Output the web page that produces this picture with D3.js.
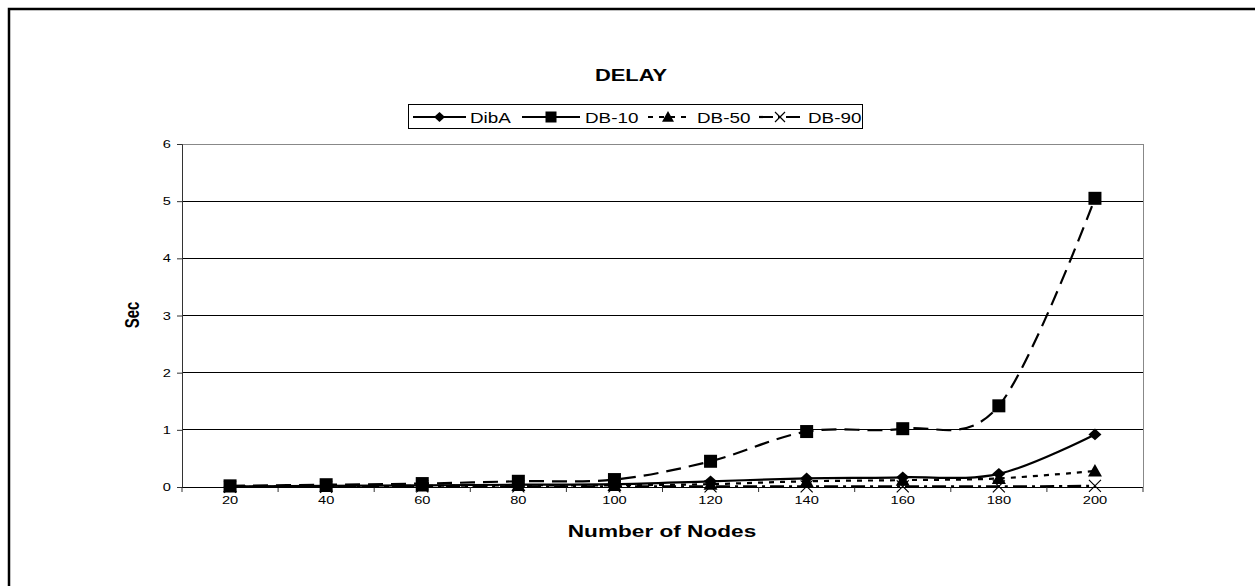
<!DOCTYPE html>
<html><head><meta charset="utf-8">
<script src="https://cdn.jsdelivr.net/npm/d3@7"></script>
<style>html,body{margin:0;background:#fff;overflow:hidden}svg{display:block;font-family:"Liberation Sans",Arial,sans-serif}</style>
</head><body>
<svg id="c" width="1255" height="586"></svg>
<script>
const categories = [20, 40, 60, 80, 100, 120, 140, 160, 180, 200];
const dibA = [0.01, 0.02, 0.03, 0.04, 0.05, 0.10, 0.15, 0.17, 0.23, 0.92];
const db10 = [0.02, 0.04, 0.06, 0.10, 0.13, 0.45, 0.97, 1.02, 1.42, 5.05];
const db50 = [0.005, 0.01, 0.02, 0.03, 0.03, 0.05, 0.10, 0.12, 0.15, 0.28];
const db90 = [0.005, 0.005, 0.01, 0.01, 0.01, 0.01, 0.01, 0.01, 0.01, 0.02];
const yTicks = [0, 1, 2, 3, 4, 5, 6];
const seriesNames = ["DibA", "DB-10", "DB-50", "DB-90"];

const series = [
  {name: seriesNames[0], values: dibA, dash: null, marker: "diamond"},
  {name: seriesNames[1], values: db10, dash: "15,8", marker: "square"},
  {name: seriesNames[2], values: db50, dash: "5,6", marker: "triangle"},
  {name: seriesNames[3], values: db90, dash: "14,5,3,5", marker: "cross"}
];

const SX = 1.33; // horizontal stretch of the original picture

const svg = d3.select("#c");
const L = 182, R = 1143, T = 144, B = 487;
const x = d3.scaleBand().domain(categories).range([L, R]).padding(0);
const y = d3.scaleLinear().domain([0, 6]).range([B, T]);
const cx = d => x(d) + x.bandwidth() / 2;

function stext(px, py, str, size, bold, anchor, rot, sx) {
  const t = svg.append("text")
    .attr("transform", `translate(${px},${py}) scale(${sx || SX},1)` + (rot ? ` rotate(${rot})` : ""))
    .attr("font-size", size).attr("text-anchor", anchor || "start").text(str);
  if (bold) t.attr("font-weight", "bold");
  return t;
}

// outer border (only left and top edges are inside the picture)
svg.append("path").attr("d", "M9,700V9H1400")
  .attr("fill", "none").attr("stroke", "#000").attr("stroke-width", 2.5);

// title
stext(631, 81, "DELAY", 16, true, "middle", null, 1.37);

// gridlines
svg.append("g").selectAll("line").data(yTicks.filter(t => t > 0)).join("line")
  .attr("x1", L).attr("x2", R).attr("y1", d => y(d)).attr("y2", d => y(d))
  .attr("stroke", d => d === 6 ? "#888" : "#000").attr("stroke-width", 1).attr("shape-rendering", "crispEdges");
svg.append("line").attr("x1", R).attr("x2", R).attr("y1", T).attr("y2", B)
  .attr("stroke", "#888").attr("shape-rendering", "crispEdges");

// y axis
const yAxis = svg.append("g").attr("transform", `translate(${L},0)`)
  .call(d3.axisLeft(y).tickValues(yTicks).tickSize(5).tickFormat(""));
yAxis.select(".domain").attr("stroke", "#333");
yAxis.selectAll("line").attr("stroke", "#333");
yTicks.forEach(t => stext(L - 11, y(t) + 4, d3.format("d")(t), 11, false, "end"));

// x axis
svg.append("line").attr("x1", L).attr("x2", R).attr("y1", B).attr("y2", B)
  .attr("stroke", "#000").attr("shape-rendering", "crispEdges");
const xAxis = svg.append("g").attr("transform", `translate(0,${B})`)
  .call(d3.axisBottom(x).tickSize(0).tickFormat(""));
xAxis.select(".domain").remove();
categories.forEach(c => stext(cx(c), B + 17, String(c), 11, false, "middle"));
svg.append("g").selectAll("line").data(d3.range(categories.length + 1)).join("line")
  .attr("x1", i => L + i * x.bandwidth()).attr("x2", i => L + i * x.bandwidth())
  .attr("y1", B).attr("y2", B + 5).attr("stroke", "#333");

// axis titles
stext(662, 537, "Number of Nodes", 17, true, "middle");
stext(139, 315, "Sec", 15, true, "middle", -90);

// markers
function drawMarker(g, type, px, py, s) {
  if (type === "diamond") {
    g.append("path").attr("d", `M${px},${py - s * 0.9}L${px + s},${py}L${px},${py + s * 0.9}L${px - s},${py}Z`).attr("fill", "#000");
  } else if (type === "square") {
    g.append("rect").attr("x", px - s).attr("y", py - s).attr("width", 2 * s).attr("height", 2 * s).attr("fill", "#000");
  } else if (type === "triangle") {
    g.append("path").attr("d", `M${px},${py - s}L${px + s},${py + s * 0.8}L${px - s},${py + s * 0.8}Z`).attr("fill", "#000");
  } else {
    g.append("path").attr("d", `M${px - s},${py - s}L${px + s},${py + s}M${px - s},${py + s}L${px + s},${py - s}`)
      .attr("stroke", "#000").attr("stroke-width", 1.2).attr("fill", "none");
  }
}
const markerSize = {diamond: 6.5, square: 6.5, triangle: 7, cross: 6};

const line = d3.line().x(d => cx(d.c)).y(d => y(d.v)).curve(d3.curveCardinal.tension(0));
[3, 2, 0, 1].forEach(i => {
  const s = series[i];
  const pts = categories.map((c, k) => ({c, v: s.values[k]}));
  const g = svg.append("g");
  g.append("path").attr("d", line(pts)).attr("fill", "none").attr("stroke", "#000")
    .attr("stroke-width", 2.2).attr("stroke-dasharray", s.dash);
  pts.forEach(p => drawMarker(g, s.marker, cx(p.c), y(p.v), markerSize[s.marker]));
});

// legend
const lg = svg.append("g");
lg.append("rect").attr("x", 408.5).attr("y", 104.5).attr("width", 454).attr("height", 24)
  .attr("fill", "#fff").attr("stroke", "#000").attr("stroke-width", 1);
const legendItems = [
  {x1: 413, x2: 466, tx: 470},
  {x1: 522, x2: 580, tx: 585},
  {x1: 648, x2: 688, tx: 697},
  {x1: 759, x2: 801, tx: 808}
];
series.forEach((s, i) => {
  const it = legendItems[i];
  const yy = 117;
  lg.append("line").attr("x1", it.x1).attr("x2", it.x2).attr("y1", yy).attr("y2", yy)
    .attr("stroke", "#000").attr("stroke-width", 2.2).attr("stroke-dasharray", i === 1 ? null : s.dash);
  drawMarker(lg, s.marker, (it.x1 + it.x2) / 2, yy, markerSize[s.marker] - 1);
  stext(it.tx, yy + 5.5, s.name, 14.5, false, "start", null, 1.3);
});
</script>
</body></html>
